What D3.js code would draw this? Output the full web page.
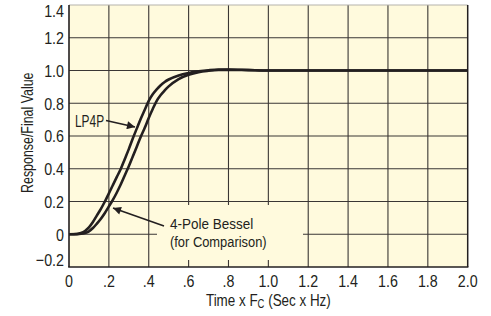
<!DOCTYPE html>
<html>
<head>
<meta charset="utf-8">
<script src="https://cdn.jsdelivr.net/npm/d3@7"></script>
<style>
  body { margin: 0; background: #fff; }
  text { font-family: "Liberation Sans", Arial, sans-serif; fill: #231f20; }
</style>
</head>
<body>
<svg id="chart" width="491" height="316"></svg>
<script>
// step response, time normalised to cutoff (t x Fc)
var time   = [0, 0.04, 0.06, 0.08, 0.10, 0.12, 0.14, 0.16, 0.18, 0.20, 0.22, 0.24, 0.26, 0.28, 0.30, 0.32, 0.34, 0.36, 0.38, 0.40, 0.42, 0.44, 0.46, 0.48, 0.50, 0.55, 0.60, 0.65, 0.70, 0.75, 0.80, 0.90, 1.0, 1.2, 1.5, 2.0];
var lp4p   = [0, 0.002, 0.008, 0.02, 0.042, 0.075, 0.115, 0.155, 0.20, 0.25, 0.30, 0.35, 0.40, 0.46, 0.52, 0.585, 0.645, 0.705, 0.76, 0.815, 0.855, 0.885, 0.91, 0.93, 0.945, 0.97, 0.985, 0.995, 1.002, 1.006, 1.006, 1.003, 1.0, 1.0, 1.0, 1.0];
var bessel = [0, 0.001, 0.003, 0.008, 0.018, 0.038, 0.065, 0.095, 0.13, 0.17, 0.21, 0.255, 0.305, 0.36, 0.415, 0.475, 0.535, 0.595, 0.65, 0.71, 0.765, 0.815, 0.85, 0.878, 0.903, 0.948, 0.974, 0.99, 0.998, 1.003, 1.004, 1.002, 1.0, 1.0, 1.0, 1.0];

var xTicks = [0, 0.2, 0.4, 0.6, 0.8, 1.0, 1.2, 1.4, 1.6, 1.8, 2.0];
var xTickLabels = ["0", ".2", ".4", ".6", ".8", "1.0", "1.2", "1.4", "1.6", "1.8", "2.0"];
var yTicks = [-0.2, 0, 0.2, 0.4, 0.6, 0.8, 1.0, 1.2, 1.4];
var yTickLabels = ["\u22120.2", "0", "0.2", "0.4", "0.6", "0.8", "1.0", "1.2", "1.4"];

var svg = d3.select("#chart");
var x = d3.scaleLinear().domain([0, 2]).range([69, 467.7]);
var y = d3.scaleLinear().domain([-0.2, 1.4]).range([267, 5]);
var ink = "#231f20";
var cream = "#fffadd";

// no condensed face installed, so squeeze horizontally
function label(px, py, str, anchor, size, sq, rot) {
  return svg.append("text")
    .attr("transform", "translate(" + px + "," + py + ")" + (rot ? " rotate(" + rot + ")" : "") + " scale(" + sq + ",1)")
    .attr("text-anchor", anchor || "start")
    .attr("font-size", size)
    .text(str);
}

// plot background
svg.append("rect")
  .attr("x", x(0)).attr("y", y(1.4))
  .attr("width", x(2) - x(0)).attr("height", y(-0.2) - y(1.4))
  .attr("fill", cream);

// grid
var grid = svg.append("g");
grid.selectAll(".vg").data(xTicks.slice(1, -1)).enter().append("line")
  .attr("x1", d => x(d)).attr("x2", d => x(d))
  .attr("y1", y(1.4)).attr("y2", y(-0.2))
  .attr("stroke", "#3a3634").attr("stroke-width", 1.1);
grid.selectAll(".hg").data(yTicks.slice(1, -1)).enter().append("line")
  .attr("x1", x(0)).attr("x2", x(2))
  .attr("y1", d => y(d)).attr("y2", d => y(d))
  .attr("stroke", "#3a3634").attr("stroke-width", 1.1);

// frame
svg.append("line").attr("x1", x(0)).attr("x2", x(2)).attr("y1", y(1.4)).attr("y2", y(1.4))
  .attr("stroke", "#b5b2ac").attr("stroke-width", 1);
svg.append("line").attr("x1", x(2)).attr("x2", x(2)).attr("y1", y(1.4)).attr("y2", y(-0.2))
  .attr("stroke", ink).attr("stroke-width", 1.5);
svg.append("line").attr("x1", x(0)).attr("x2", x(0)).attr("y1", y(1.4)).attr("y2", y(-0.2))
  .attr("stroke", ink).attr("stroke-width", 1.6);
svg.append("line").attr("x1", x(0) - 0.8).attr("x2", x(2) + 0.7).attr("y1", y(-0.2)).attr("y2", y(-0.2))
  .attr("stroke", ink).attr("stroke-width", 1.6);

// curves
var line = d3.line()
  .x((d, i) => x(time[i]))
  .y(d => y(d))
  .curve(d3.curveMonotoneX);

[bessel, lp4p].forEach(function(s) {
  svg.append("path")
    .attr("d", line(s))
    .attr("fill", "none")
    .attr("stroke", ink)
    .attr("stroke-width", 2.6);
});

// label box for Bessel annotation hides grid
svg.append("rect")
  .attr("x", 157).attr("y", 205).attr("width", 146).attr("height", 55)
  .attr("fill", cream);

// arrowheads
svg.append("defs").append("marker")
  .attr("id", "arr")
  .attr("viewBox", "0 0 10 10")
  .attr("refX", 10).attr("refY", 5)
  .attr("markerWidth", 10).attr("markerHeight", 8)
  .attr("markerUnits", "userSpaceOnUse")
  .attr("orient", "auto")
  .append("path").attr("d", "M0,0 L10,5 L0,10 Z").attr("fill", ink);

svg.append("line")
  .attr("x1", 106).attr("y1", 120.5).attr("x2", 135).attr("y2", 127)
  .attr("stroke", ink).attr("stroke-width", 1.6)
  .attr("marker-end", "url(#arr)");
svg.append("line")
  .attr("x1", 164).attr("y1", 226).attr("x2", 113).attr("y2", 208)
  .attr("stroke", ink).attr("stroke-width", 1.6)
  .attr("marker-end", "url(#arr)");

// annotation text
label(75, 126.5, "LP4P", "start", 17, 0.7);
label(170, 228.5, "4-Pole Bessel", "start", 15, 0.9);
label(170, 246.5, "(for Comparison)", "start", 15, 0.86);

// tick labels
xTicks.forEach(function(d, i) {
  label(x(d), 287, xTickLabels[i], "middle", 17, 0.84);
});
yTicks.forEach(function(d, i) {
  var py = d === 1.4 ? y(d) + 12 : (d === -0.2 ? y(d) - 1 : y(d) + 6.3);
  label(64, py, yTickLabels[i], "end", 17, 0.84);
});

// axis titles
var xt = label(x(1), 306, "", "middle", 17, 0.79);
xt.append("tspan").text("Time x F");
xt.append("tspan").attr("font-size", 12).attr("dy", 2).text("C");
xt.append("tspan").attr("dy", -2).text(" (Sec x Hz)");

label(33, y(0.62), "Response/Final Value", "middle", 17, 0.73, -90);
</script>
</body>
</html>
